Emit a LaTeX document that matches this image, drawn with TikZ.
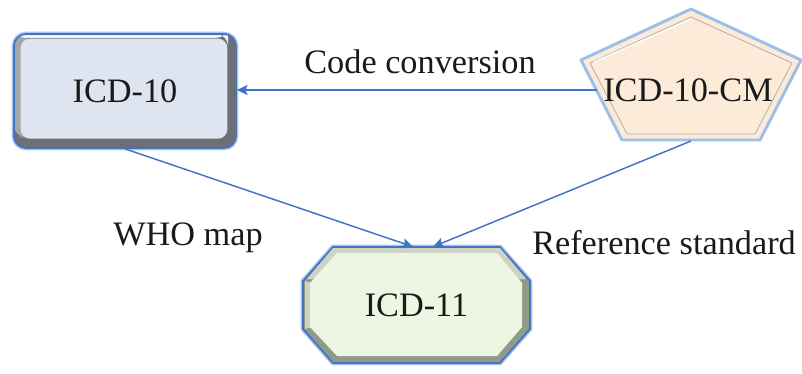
\documentclass[tikz,border=0pt]{standalone}
\usepackage{fontspec}
\setmainfont{Liberation Serif}
\usetikzlibrary{arrows.meta,calc}
\definecolor{lineblue}{HTML}{4472C4}
\definecolor{glow}{HTML}{A9C6EA}
\definecolor{face10}{HTML}{DEE5F0}
\definecolor{bevdark}{HTML}{6C7075}
\definecolor{bevmid}{HTML}{A3A7AC}
\definecolor{bevlight}{HTML}{F2F3F5}
\definecolor{facecm}{HTML}{FCEBD9}
\definecolor{cmline}{HTML}{B5ADA5}
\definecolor{cmglow}{HTML}{9DC0EA}
\definecolor{face11}{HTML}{EDF6E3}
\definecolor{bev11}{HTML}{8F9A88}
\definecolor{bev11l}{HTML}{CDD4C6}
\definecolor{txt}{HTML}{1A1A1A}
\tikzset{
  arr/.style={draw=lineblue, line width=1.1pt, -{Stealth[length=8pt,width=7.5pt,inset=1.5pt]}},
  lbl/.style={text=txt, inner sep=0pt},
  box10/.style={rectangle, rounded corners=9pt, minimum width=166.5pt, minimum height=85.5pt,
    inner sep=0pt, text=txt, draw=lineblue, line width=1.3pt,
    preaction={draw=glow, line width=3.5pt},
    fill=bevdark,
    path picture={
      \fill[bevmid] (path picture bounding box.north west) rectangle ([xshift=12pt,yshift=8pt]path picture bounding box.south west);
      \fill[bevlight] (path picture bounding box.north west) rectangle ([xshift=-6pt,yshift=-3pt]path picture bounding box.north east);
      \fill[face10, rounded corners=7pt] ([xshift=5pt,yshift=-3.5pt]path picture bounding box.north west)
        rectangle ([xshift=-6.5pt,yshift=7pt]path picture bounding box.south east);
    }},
  txtnode/.style={text=txt, inner sep=4.5pt}
}
\begin{document}
\begin{tikzpicture}[x=0.75pt,y=-0.75pt,font=\rmfamily\fontsize{25.7}{30}\selectfont]
\useasboundingbox (0,0) rectangle (802,374);
% ICD-10
\node[box10] (icd10) at (125,91) {ICD-10};
% ICD-10-CM pentagon
\path[fill=facecm, draw=cmglow, line width=2.2pt, line join=round]
  (691,9) -- (801,60) -- (760,140) -- (622,140) -- (581,60) -- cycle;
\draw[cmline, line width=0.6pt, line join=round]
  (691,17) -- (792,63) -- (755,134) -- (627,134) -- (590,63) -- cycle;
\draw[white, line width=1pt] (594,62) -- (691,19);
\node[txtnode] (cm) at (688,90) {ICD-10-CM};
\coordinate (cmb) at (691,141);
% ICD-11 octagon
\path[fill=bev11, draw=glow, line width=3.5pt, line join=round]
  (333,247) -- (500,247) -- (530,281) -- (530,329) -- (500,363) -- (333,363) -- (303,329) -- (303,281) -- cycle;
\path[fill=bev11, draw=lineblue, line width=1.3pt, line join=round]
  (333,247) -- (500,247) -- (530,281) -- (530,329) -- (500,363) -- (333,363) -- (303,329) -- (303,281) -- cycle;
\fill[bev11l] (333,248) -- (500,248) -- (526,279) -- (307,279) -- cycle;
\fill[bev11l] (305,281) -- (312,283) -- (312,327) -- (305,329) -- cycle;
\fill[face11, line join=round]
  (337,253) -- (497,253) -- (522,283) -- (522,327) -- (497,356) -- (337,356) -- (310,327) -- (310,283) -- cycle;
\node[minimum width=170.25pt, minimum height=87pt, inner sep=0pt, text=txt] (icd11) at (416.5,305) {ICD-11};
% connectors
\draw[arr] (cm.west) -- (cm.west -| icd10.east);
\draw[arr] (icd10.south) -- ([xshift=-2.6pt]icd11.north);
\draw[arr] (cmb) -- ([xshift=12.4pt]icd11.north);
% labels
\node[lbl] (conv) at (420,62) {Code conversion};
\node[lbl] (who) at (188,238) {WHO map};
\node[lbl] (refstd) at (664,243) {Reference standard};
\end{tikzpicture}
\end{document}
